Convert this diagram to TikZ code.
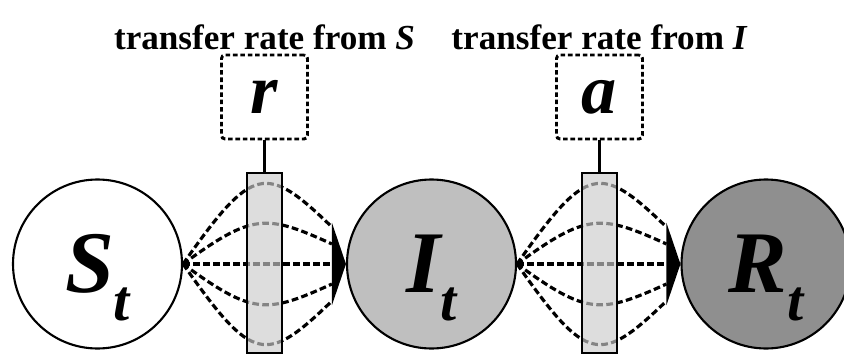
\documentclass[tikz,border=0pt]{standalone}
\usepackage{fontspec}
\setmainfont{Liberation Serif}
\usetikzlibrary{arrows.meta, positioning, calc}
\definecolor{igray}{gray}{0.75}
\definecolor{rgray}{gray}{0.56}
\definecolor{bgray}{gray}{0.80}
\newcommand{\stlabel}[1]{{\fontsize{50}{50}\selectfont\bfseries\itshape #1}\raisebox{-16pt}[0pt][0pt]{\fontsize{33}{33}\selectfont\bfseries\itshape t}}
\tikzset{
  statenode/.style = {circle, draw=black, line width=1.2pt, minimum size=3.38cm, inner sep=0pt},
  ratebar/.style   = {draw=black, line width=1.7pt, fill=bgray, fill opacity=0.65, minimum width=0.70cm, minimum height=3.60cm, inner sep=0pt},
  ratebox/.style   = {draw=black, line width=1.7pt, dash pattern=on 2.6pt off 1.6pt, rounded corners=2pt, minimum width=1.72cm, minimum height=1.68cm, inner sep=0pt, font=\fontsize{40}{40}\selectfont\bfseries\itshape},
  flowarr/.style   = {line width=1.8pt, dash pattern=on 3.8pt off 1.9pt},
  headarr/.style   = {flowarr, -{Triangle[length=0.28cm, width=1.64cm]}},
  ratetitle/.style = {font=\fontsize{20}{20}\selectfont\bfseries, inner sep=0pt},
}
\begin{document}
\begin{tikzpicture}
\useasboundingbox[fill=white] (0,0) rectangle (16.88,7.12);

%% ---- (1) Compartments ----
\node[statenode, fill=white] (S) at (1.95, 1.84) {\stlabel{S}};
\node[statenode, fill=igray] (I) at (8.63, 1.84) {\stlabel{I}};
\node[statenode, fill=rgray] (R) at (15.32, 1.84) {\stlabel{R}};

%% ---- (2) Ends of the flow lines ----
\coordinate (SI1) at ($(I.west)+(-0.28, 0.74)$);
\coordinate (SI2) at ($(I.west)+(-0.28, 0.40)$);
\coordinate (SI4) at ($(I.west)+(-0.28,-0.40)$);
\coordinate (SI5) at ($(I.west)+(-0.28,-0.74)$);
\coordinate (IR1) at ($(R.west)+(-0.28, 0.74)$);
\coordinate (IR2) at ($(R.west)+(-0.28, 0.40)$);
\coordinate (IR4) at ($(R.west)+(-0.28,-0.40)$);
\coordinate (IR5) at ($(R.west)+(-0.28,-0.74)$);

%% ---- (3) S -> I ----
\draw[flowarr] (S.east) .. controls +(1.4, 2.0) and +(-1.32, 1.27) .. (SI1);
\draw[flowarr] (S.east) .. controls +(1.4, 1.02) and +(-1.32, 0.6) .. (SI2);
\draw[headarr] (S.east) -- (I.west);
\draw[flowarr] (S.east) .. controls +(1.4,-1.02) and +(-1.32,-0.6) .. (SI4);
\draw[flowarr] (S.east) .. controls +(1.4,-2.0) and +(-1.32,-1.27) .. (SI5);

%% ---- (4) I -> R ----
\draw[flowarr] (I.east) .. controls +(1.4, 2.0) and +(-1.32, 1.27) .. (IR1);
\draw[flowarr] (I.east) .. controls +(1.4, 1.02) and +(-1.32, 0.6) .. (IR2);
\draw[headarr] (I.east) -- (R.west);
\draw[flowarr] (I.east) .. controls +(1.4,-1.02) and +(-1.32,-0.6) .. (IR4);
\draw[flowarr] (I.east) .. controls +(1.4,-2.0) and +(-1.32,-1.27) .. (IR5);

%% ---- (5) Rate bars and rate boxes ----
\node[ratebar] (rbar) at (5.29, 1.86) {};
\node[ratebar] (abar) at (11.99, 1.86) {};
\node[ratebox] (rbox) at (5.29, 5.18) {r};
\node[ratebox] (abox) at (11.99, 5.18) {a};

\draw[line width=1.2pt] (rbox.south) -- (rbar.north);
\draw[line width=1.2pt] (abox.south) -- (abar.north);

%% Labels
\node[ratetitle, above=0.06cm of rbox] (rtitle) {transfer rate from \textit{S}};
\node[ratetitle, above=0.06cm of abox] (atitle) {transfer rate from \textit{I}};

\end{tikzpicture}
\end{document}
